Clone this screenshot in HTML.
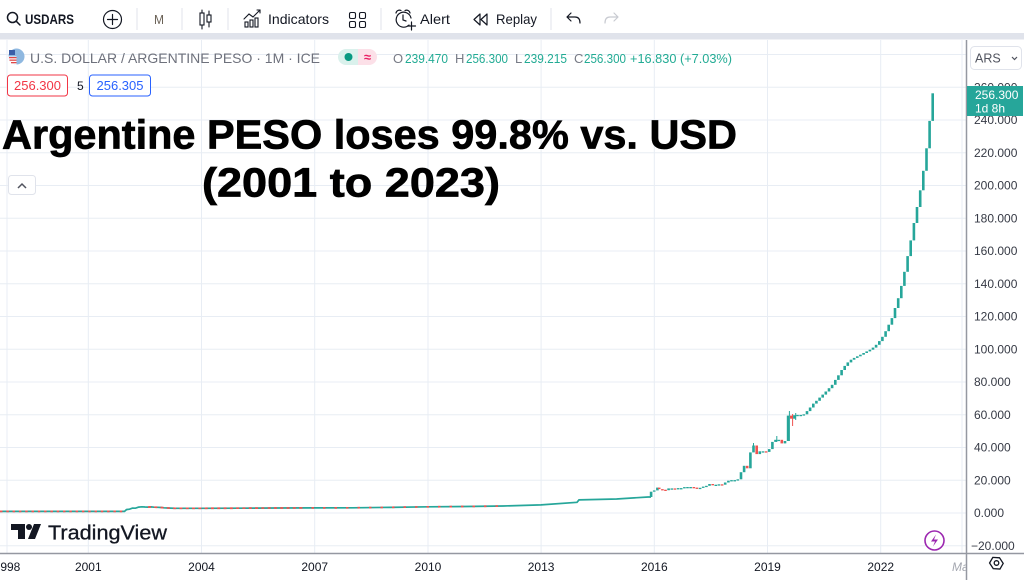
<!DOCTYPE html>
<html><head><meta charset="utf-8"><style>
html,body{margin:0;padding:0;background:#fff;}
svg{display:block;font-family:"Liberation Sans",Arial,sans-serif;}
</style></head><body>
<svg width="1024" height="580" viewBox="0 0 1024 580" xmlns="http://www.w3.org/2000/svg">
<defs><clipPath id="pane"><rect x="0" y="40" width="966" height="513"/></clipPath>
<clipPath id="tax"><rect x="0" y="554" width="966" height="26"/></clipPath></defs>
<rect width="1024" height="580" fill="#fff"/>
<!-- grid -->
<g stroke="#e8edf4" stroke-width="1" clip-path="url(#pane)">
<line x1="7" y1="40" x2="7" y2="553"/><line x1="88.3" y1="40" x2="88.3" y2="553"/><line x1="201.5" y1="40" x2="201.5" y2="553"/><line x1="314.7" y1="40" x2="314.7" y2="553"/><line x1="428" y1="40" x2="428" y2="553"/><line x1="541.1" y1="40" x2="541.1" y2="553"/><line x1="654.3" y1="40" x2="654.3" y2="553"/><line x1="767.5" y1="40" x2="767.5" y2="553"/><line x1="880.7" y1="40" x2="880.7" y2="553"/><line x1="962" y1="40" x2="962" y2="553"/>
<line x1="0" y1="545.75" x2="966" y2="545.75"/><line x1="0" y1="513" x2="966" y2="513"/><line x1="0" y1="480.25" x2="966" y2="480.25"/><line x1="0" y1="447.5" x2="966" y2="447.5"/><line x1="0" y1="414.75" x2="966" y2="414.75"/><line x1="0" y1="382" x2="966" y2="382"/><line x1="0" y1="349.25" x2="966" y2="349.25"/><line x1="0" y1="316.5" x2="966" y2="316.5"/><line x1="0" y1="283.75" x2="966" y2="283.75"/><line x1="0" y1="251" x2="966" y2="251"/><line x1="0" y1="218.25" x2="966" y2="218.25"/><line x1="0" y1="185.5" x2="966" y2="185.5"/><line x1="0" y1="152.75" x2="966" y2="152.75"/><line x1="0" y1="120" x2="966" y2="120"/><line x1="0" y1="87.25" x2="966" y2="87.25"/><line x1="0" y1="54.5" x2="966" y2="54.5"/>
</g>
<!-- slow part -->
<polyline fill="none" stroke="#26a69a" stroke-width="1.7" points="0,511.4 124.5,511.4 126.5,509.6 129.5,509.2 132.5,508.1 135.5,508.2 138.6,507.1 141.8,506.8 145,507 148,507.1 151,506.9 154,507.2 158,507.3 161,507.5 164,507.8 170,508.1 175,508.3 201.5,508.3 239,508.2 277,508 314.7,507.9 352.4,507.8 390,507.35 428,506.8 465.6,506.5 503.4,506 541,504.9 577,502.3 579,499.9 616.6,499 648,497 651,497"/>
<polyline fill="none" stroke="#ef5350" stroke-width="1.7" stroke-dasharray="2.5 3.8" points="0,511.4 124,511.4"/>
<polyline fill="none" stroke="#ef5350" stroke-width="1.7" stroke-dasharray="3 3.3" points="148,507.1 151,506.9 154,507.2 158,507.3 161,507.5 164,507.8 170,508.1 175,508.3 201.5,508.3 239,508.2 277,508 300,507.95"/>
<polyline fill="none" stroke="#ef5350" stroke-width="1.7" stroke-dasharray="2.5 9" points="300,507.95 314.7,507.9 352.4,507.8 390,507.35 428,506.8 465.6,506.5 503.4,506"/>
<!-- wicks -->
<g stroke-width="1">
<line x1="789.4" y1="411" x2="789.4" y2="441" stroke="#26a69a"/>
<line x1="792.6" y1="414" x2="792.6" y2="426" stroke="#ef5350"/>
<line x1="776.8" y1="436" x2="776.8" y2="442" stroke="#26a69a"/>
<line x1="753.5" y1="443" x2="753.5" y2="452" stroke="#26a69a"/>
<line x1="795.7" y1="413" x2="795.7" y2="420" stroke="#26a69a"/>
</g>
<!-- candles -->
<g fill="#26a69a">
<rect x="649.8" y="491.7" width="2.6" height="5.3"/>
<rect x="652.9" y="490.4" width="2.6" height="1.3"/>
<rect x="656.1" y="487.6" width="2.6" height="2.8"/>
<rect x="667.3" y="488.4" width="2.6" height="1.8"/>
<rect x="670.5" y="488.4" width="2.6" height="1.3"/>
<rect x="676.8" y="488.1" width="2.6" height="1.3"/>
<rect x="679.9" y="488.1" width="2.6" height="1.3"/>
<rect x="683.1" y="487.1" width="2.6" height="1.3"/>
<rect x="686.2" y="487.0" width="2.6" height="1.3"/>
<rect x="689.3" y="487.0" width="2.6" height="1.3"/>
<rect x="698.8" y="487.8" width="2.6" height="1.3"/>
<rect x="701.9" y="486.6" width="2.6" height="1.3"/>
<rect x="705.1" y="485.8" width="2.6" height="1.3"/>
<rect x="708.2" y="484.0" width="2.6" height="1.8"/>
<rect x="714.5" y="484.7" width="2.6" height="1.3"/>
<rect x="717.6" y="484.3" width="2.6" height="1.3"/>
<rect x="723.9" y="482.5" width="2.6" height="2.2"/>
<rect x="727.1" y="480.7" width="2.6" height="1.8"/>
<rect x="730.2" y="480.1" width="2.6" height="1.3"/>
<rect x="733.4" y="480.1" width="2.6" height="1.3"/>
<rect x="736.5" y="479.3" width="2.6" height="1.3"/>
<rect x="739.7" y="472.2" width="2.6" height="7.1"/>
<rect x="742.8" y="465.8" width="2.6" height="6.4"/>
<rect x="749.1" y="452.4" width="2.6" height="15.9"/>
<rect x="752.2" y="445.5" width="2.6" height="6.9"/>
<rect x="758.5" y="451.3" width="2.6" height="2.8"/>
<rect x="761.7" y="451.3" width="2.6" height="1.3"/>
<rect x="767.9" y="449.1" width="2.6" height="2.8"/>
<rect x="771.1" y="441.9" width="2.6" height="7.2"/>
<rect x="774.2" y="439.8" width="2.6" height="2.1"/>
<rect x="777.4" y="439.8" width="2.6" height="1.3"/>
<rect x="783.7" y="441.0" width="2.6" height="2.4"/>
<rect x="786.8" y="415.6" width="2.6" height="25.4"/>
<rect x="793.1" y="415.2" width="2.6" height="3.5"/>
<rect x="796.2" y="414.9" width="2.6" height="1.3"/>
<rect x="799.4" y="414.9" width="2.6" height="1.3"/>
<rect x="802.5" y="414.3" width="2.6" height="1.3"/>
<rect x="805.7" y="411.1" width="2.6" height="3.2"/>
<rect x="808.8" y="407.5" width="2.6" height="3.6"/>
<rect x="812.0" y="403.6" width="2.6" height="3.9"/>
<rect x="815.1" y="400.8" width="2.6" height="2.8"/>
<rect x="818.3" y="397.6" width="2.6" height="3.2"/>
<rect x="821.4" y="394.6" width="2.6" height="3.0"/>
<rect x="824.5" y="391.5" width="2.6" height="3.1"/>
<rect x="827.7" y="388.2" width="2.6" height="3.3"/>
<rect x="830.8" y="384.8" width="2.6" height="3.4"/>
<rect x="834.0" y="379.9" width="2.6" height="4.9"/>
<rect x="837.1" y="375.3" width="2.6" height="4.6"/>
<rect x="840.3" y="370.0" width="2.6" height="5.3"/>
<rect x="843.4" y="365.9" width="2.6" height="4.1"/>
<rect x="846.5" y="362.4" width="2.6" height="3.5"/>
<rect x="849.7" y="359.7" width="2.6" height="2.7"/>
<rect x="852.8" y="357.9" width="2.6" height="1.8"/>
<rect x="856.0" y="356.3" width="2.6" height="1.6"/>
<rect x="859.1" y="354.7" width="2.6" height="1.6"/>
<rect x="862.3" y="353.0" width="2.6" height="1.7"/>
<rect x="865.4" y="351.4" width="2.6" height="1.6"/>
<rect x="868.6" y="349.7" width="2.6" height="1.7"/>
<rect x="871.7" y="347.6" width="2.6" height="2.1"/>
<rect x="874.8" y="344.8" width="2.6" height="2.8"/>
<rect x="878.0" y="341.1" width="2.6" height="3.7"/>
<rect x="881.1" y="336.8" width="2.6" height="4.3"/>
<rect x="884.3" y="331.2" width="2.6" height="5.6"/>
<rect x="887.4" y="324.7" width="2.6" height="6.5"/>
<rect x="890.6" y="318.1" width="2.6" height="6.6"/>
<rect x="893.7" y="308.0" width="2.6" height="10.1"/>
<rect x="896.9" y="298.2" width="2.6" height="9.8"/>
<rect x="900.0" y="285.9" width="2.6" height="12.3"/>
<rect x="903.1" y="271.8" width="2.6" height="14.1"/>
<rect x="906.3" y="256.1" width="2.6" height="15.7"/>
<rect x="909.4" y="240.4" width="2.6" height="15.7"/>
<rect x="912.6" y="223.0" width="2.6" height="17.4"/>
<rect x="915.7" y="207.0" width="2.6" height="16.0"/>
<rect x="918.9" y="190.3" width="2.6" height="16.7"/>
<rect x="922.0" y="170.8" width="2.6" height="19.5"/>
<rect x="925.2" y="148.3" width="2.6" height="22.5"/>
<rect x="928.3" y="120.9" width="2.6" height="27.4"/>
<rect x="931.4" y="93.3" width="2.6" height="27.6"/>
</g>
<g fill="#ef5350">
<rect x="657.9" y="487.6" width="2.6" height="1.5"/>
<rect x="661.1" y="489.1" width="2.6" height="1.3"/>
<rect x="664.2" y="489.7" width="2.6" height="1.3"/>
<rect x="673.6" y="488.4" width="2.6" height="1.3"/>
<rect x="692.5" y="487.0" width="2.6" height="1.3"/>
<rect x="695.6" y="487.6" width="2.6" height="1.3"/>
<rect x="711.4" y="484.0" width="2.6" height="1.3"/>
<rect x="720.8" y="484.3" width="2.6" height="1.3"/>
<rect x="745.9" y="465.8" width="2.6" height="2.5"/>
<rect x="755.4" y="445.5" width="2.6" height="8.6"/>
<rect x="764.8" y="451.3" width="2.6" height="1.3"/>
<rect x="780.5" y="439.8" width="2.6" height="3.6"/>
<rect x="790.0" y="415.6" width="2.6" height="3.1"/>
</g>

<!-- toolbar -->
<rect x="0" y="0" width="1024" height="33" fill="#fff"/>
<rect x="0" y="33" width="1024" height="6.5" fill="#e0e3eb"/>
<g fill="none" stroke="#131722" stroke-width="1.5" stroke-linecap="round">
<circle cx="12.5" cy="17.5" r="5"/><line x1="16.2" y1="21.2" x2="20" y2="25"/>
<circle cx="112.5" cy="19.5" r="9" stroke-width="1.2"/><line x1="112.5" y1="14.5" x2="112.5" y2="24.5" stroke-width="1.2"/><line x1="107.5" y1="19.5" x2="117.5" y2="19.5" stroke-width="1.2"/>
<g stroke-width="1.1"><line x1="202" y1="10" x2="202" y2="29"/><rect x="200" y="13" width="4" height="12" fill="#fff"/><line x1="209" y1="11" x2="209" y2="27"/><rect x="207" y="15" width="4" height="7" fill="#fff"/></g>
<g stroke-width="1.1"><polyline points="244,19 249,14 253,17 260,10"/><polyline points="257,10 260,10 260,13"/><rect x="245" y="22" width="3" height="5"/><rect x="250" y="20" width="3" height="7"/><rect x="255" y="18" width="3" height="9"/></g>
<g stroke-width="1.1"><rect x="349.5" y="12.5" width="6" height="6" rx="1.5"/><rect x="359.5" y="12.5" width="6" height="6" rx="1.5"/><rect x="349.5" y="21.5" width="6" height="6" rx="1.5"/><rect x="359.5" y="21.5" width="6" height="6" rx="1.5"/></g>
<g stroke-width="1.2"><path d="M409 25 A7.5 7.5 0 1 1 411 18"/><path d="M396 13 A3.5 3.5 0 0 1 401 10.5"/><path d="M410 13 A3.5 3.5 0 0 0 405 10.5"/><polyline points="403,15 403,20 406,21"/><line x1="411.5" y1="22" x2="411.5" y2="30"/><line x1="407.5" y1="26" x2="415.5" y2="26"/></g>
<g stroke-width="1.2" stroke-linejoin="round"><polygon points="480,14 474,19.5 480,25"/><polygon points="487,14 481,19.5 487,25"/></g>
<g stroke-width="1.2"><path d="M567 17 L571 13 M567 17 L571 21 M567 17 H575 Q580 17 580 23"/></g>
<g stroke="#c8cad1" stroke-width="1.2"><path d="M618 17 L614 13 M618 17 L614 21 M618 17 H610 Q605 17 605 23"/></g>
</g>
<g stroke="#e0e3eb" stroke-width="1"><line x1="137" y1="8" x2="137" y2="30"/><line x1="182" y1="8" x2="182" y2="30"/><line x1="228" y1="8" x2="228" y2="30"/><line x1="381" y1="8" x2="381" y2="30"/><line x1="551" y1="8" x2="551" y2="30"/></g>
<g fill="#131722" font-size="14">
<text x="25" y="24" font-weight="bold" textLength="49" lengthAdjust="spacingAndGlyphs">USDARS</text>
<text x="154" y="24" font-size="13" fill="#6b6257" textLength="10" lengthAdjust="spacingAndGlyphs">M</text>
<text x="268" y="24" textLength="61" lengthAdjust="spacingAndGlyphs">Indicators</text>
<text x="420" y="24" textLength="30" lengthAdjust="spacingAndGlyphs">Alert</text>
<text x="496" y="24" textLength="41" lengthAdjust="spacingAndGlyphs">Replay</text>
</g>

<!-- header -->
<circle cx="16.5" cy="56.5" r="8" fill="#8fb8e0"/>
<path d="M8.5 56.5 H16.5 V64.5 A8 8 0 0 1 8.5 56.5Z" fill="#fff"/>
<g fill="#e04848"><rect x="9" y="57" width="7.5" height="1.3"/><rect x="9.5" y="59.5" width="7" height="1.3"/><rect x="11" y="62" width="5.5" height="1.3"/></g>
<rect x="9" y="50" width="6" height="5" fill="#3a5ea8"/>
<text x="30" y="63" font-size="14" fill="#6e717c" textLength="290" lengthAdjust="spacingAndGlyphs">U.S. DOLLAR / ARGENTINE PESO · 1M · ICE</text>
<path d="M346 49 H358 V65 H346 A8 8 0 0 1 346 49Z" fill="#daf1ec"/>
<path d="M358 49 H369 A8 8 0 0 1 369 65 H358Z" fill="#fce0e8"/>
<circle cx="348.5" cy="57" r="4" fill="#089981"/>
<text x="367.5" y="61.5" font-size="13" fill="#e91e63" text-anchor="middle" font-weight="bold">≈</text>
<g font-size="13">
<text x="393" y="63" fill="#787b86">O</text><text x="405" y="63" fill="#22ab94" textLength="43" lengthAdjust="spacingAndGlyphs">239.470</text>
<text x="455" y="63" fill="#787b86">H</text><text x="466" y="63" fill="#22ab94" textLength="42" lengthAdjust="spacingAndGlyphs">256.300</text>
<text x="515" y="63" fill="#787b86">L</text><text x="524" y="63" fill="#22ab94" textLength="43" lengthAdjust="spacingAndGlyphs">239.215</text>
<text x="574" y="63" fill="#787b86">C</text><text x="584" y="63" fill="#22ab94" textLength="42" lengthAdjust="spacingAndGlyphs">256.300</text>
<text x="630" y="63" fill="#22ab94" textLength="102" lengthAdjust="spacingAndGlyphs">+16.830 (+7.03%)</text>
</g>
<rect x="7.5" y="75" width="60" height="21" rx="3" fill="#fff" stroke="#f23645" stroke-width="1"/>
<text x="37.5" y="90" font-size="13" fill="#f23645" text-anchor="middle">256.300</text>
<text x="77" y="90" font-size="12" fill="#131722">5</text>
<rect x="89.5" y="75" width="61" height="21" rx="3" fill="#fff" stroke="#2962ff" stroke-width="1"/>
<text x="120" y="90" font-size="13" fill="#2962ff" text-anchor="middle">256.305</text>

<!-- title -->
<text x="2" y="148.3" font-size="41" font-weight="bold" fill="#000" stroke="#000" stroke-width="0.7" textLength="735" lengthAdjust="spacingAndGlyphs">Argentine PESO loses 99.8% vs. USD</text>
<text x="202" y="196.5" font-size="41" font-weight="bold" fill="#000" stroke="#000" stroke-width="0.7" textLength="298" lengthAdjust="spacingAndGlyphs">(2001 to 2023)</text>

<rect x="8.5" y="175.5" width="27" height="19" rx="3" fill="#fff" stroke="#e0e3eb"/>
<path d="M18 188 L22 184 L26 188" fill="none" stroke="#50535e" stroke-width="1.5"/>

<!-- TradingView logo -->
<g fill="#131722">
<path d="M11 524 H25 V539 H18 V530 H11Z"/>
<circle cx="29" cy="527" r="3"/>
<path d="M34 524 H41 L35 539 H28Z"/>
</g>
<text x="48" y="539.3" font-size="20" fill="#131722" stroke="#131722" stroke-width="0.3" textLength="119" lengthAdjust="spacingAndGlyphs">TradingView</text>

<!-- lightning -->
<circle cx="934.5" cy="540.5" r="9.5" fill="#fff" stroke="#9c27b0" stroke-width="1.6"/>
<path d="M936 534.5 L931 541.5 H935 L933 546.5 L938 539.5 H934Z" fill="#9c27b0"/>

<!-- axes -->
<rect x="967" y="40" width="57" height="540" fill="#fff"/>
<rect x="0" y="554" width="967" height="26" fill="#fff"/>
<line x1="0" y1="553.5" x2="1024" y2="553.5" stroke="#9598a1" stroke-width="1.5"/>
<line x1="966.5" y1="40" x2="966.5" y2="580" stroke="#9598a1" stroke-width="1.5"/>
<g font-size="12" fill="#131722" text-anchor="middle">
<text x="7" y="571">1998</text><text x="88.3" y="571">2001</text><text x="201.5" y="571">2004</text><text x="314.7" y="571">2007</text><text x="428" y="571">2010</text><text x="541.1" y="571">2013</text><text x="654.3" y="571">2016</text><text x="767.5" y="571">2019</text><text x="880.7" y="571">2022</text>
</g>
<text x="952" y="571" font-size="12" fill="#a3a6af" font-style="italic" clip-path="url(#tax)">Mar</text>
<g font-size="12" fill="#363a45">
<text x="974" y="91.3">260.000</text><text x="974" y="124">240.000</text><text x="974" y="156.8">220.000</text><text x="974" y="189.5">200.000</text><text x="974" y="222.3">180.000</text><text x="974" y="255">160.000</text><text x="974" y="287.8">140.000</text><text x="974" y="320.5">120.000</text><text x="974" y="353.3">100.000</text><text x="974" y="386">80.000</text><text x="974" y="418.8">60.000</text><text x="974" y="451.5">40.000</text><text x="974" y="484.3">20.000</text><text x="974" y="517">0.000</text><text x="971" y="549.8">−20.000</text>
</g>
<rect x="970.5" y="46.5" width="51" height="23" rx="4" fill="#fff" stroke="#e0e3eb"/>
<text x="975" y="62.5" font-size="12.5" fill="#50535e">ARS</text>
<path d="M1012 57 L1014.5 59.5 L1017 57" fill="none" stroke="#50535e" stroke-width="1.2"/>
<rect x="967" y="86" width="56" height="30" fill="#26a69a"/>
<text x="975" y="99" font-size="12" fill="#fff">256.300</text>
<text x="975" y="112.5" font-size="12" fill="#fff">1d 8h</text>
<polygon points="990.5,561 996.5,558 1002.5,561 1002.5,567.5 996.5,570.5 990.5,567.5" fill="none" stroke="#131722" stroke-width="1.3" transform="translate(0,-1) rotate(30 996.5 564)"/>
<circle cx="996.5" cy="563" r="2.3" fill="none" stroke="#131722" stroke-width="1.3"/>
</svg>
</body></html>
